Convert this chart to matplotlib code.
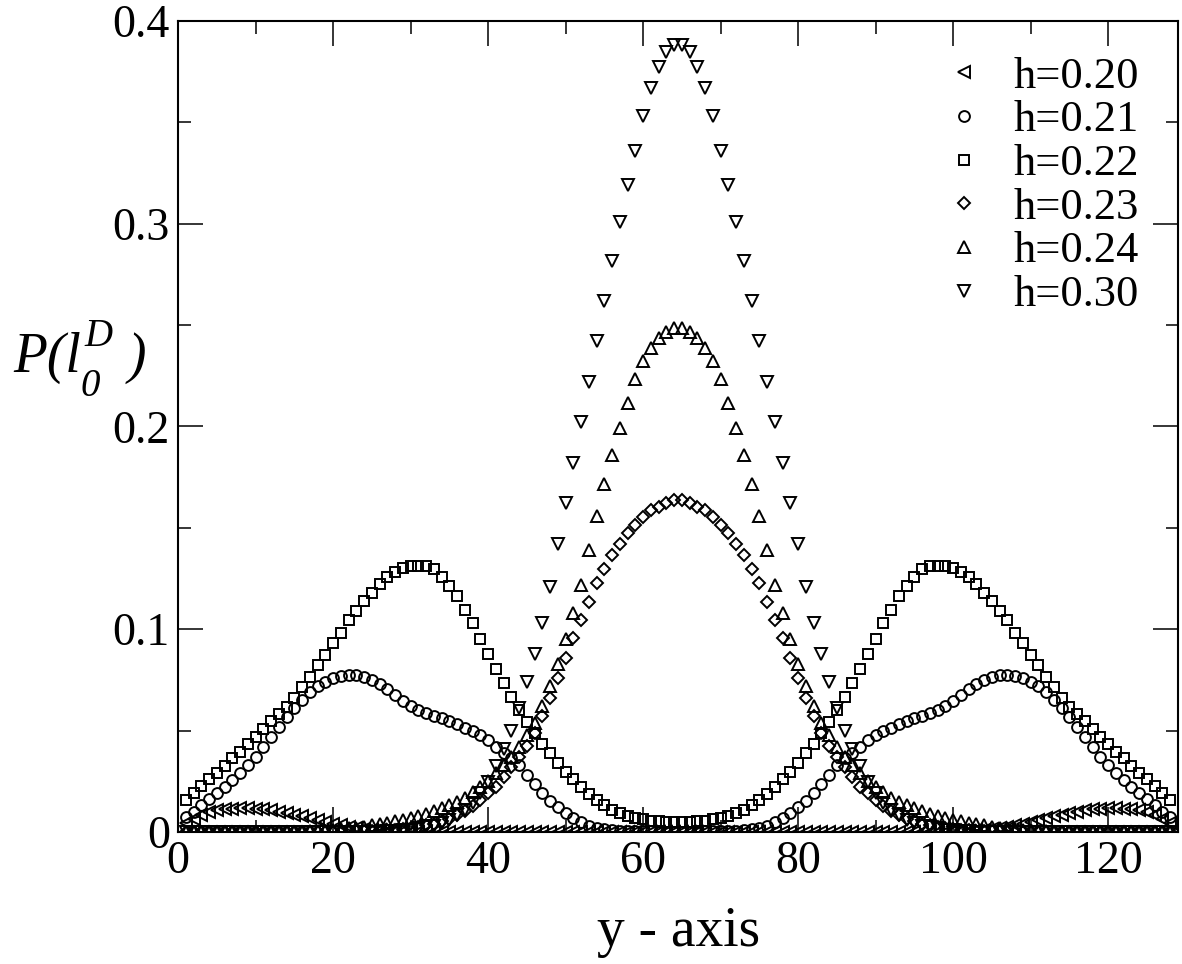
import numpy as np
import matplotlib
matplotlib.use('Agg')
import matplotlib.pyplot as plt

# posições ao longo do eixo y da rede (1..128)
y_pos = np.arange(1, 129)

h020 = [
    0.0043, 0.0065, 0.0083, 0.0097, 0.0107, 0.0113, 0.0116, 0.0117,
    0.0117, 0.0115, 0.0112, 0.0107, 0.0101, 0.0094, 0.0086, 0.0077,
    0.0069, 0.0060, 0.0051, 0.0042, 0.0033, 0.0026, 0.0020, 0.0015,
    0.0011, 0.0008, 0.0006, 0.0004, 0.0003, 0.0002, 0.0001, 0.0,
    0.0, 0.0, 0.0, 0.0, 0.0, 0.0, 0.0, 0.0,
    0.0, 0.0, 0.0, 0.0, 0.0, 0.0, 0.0, 0.0,
    0.0, 0.0, 0.0, 0.0, 0.0, 0.0, 0.0, 0.0,
    0.0, 0.0, 0.0, 0.0, 0.0, 0.0, 0.0, 0.0,
    0.0, 0.0, 0.0, 0.0, 0.0, 0.0, 0.0, 0.0,
    0.0, 0.0, 0.0, 0.0, 0.0, 0.0, 0.0, 0.0,
    0.0, 0.0, 0.0, 0.0, 0.0, 0.0, 0.0, 0.0,
    0.0, 0.0, 0.0, 0.0, 0.0, 0.0, 0.0, 0.0,
    0.0, 0.0001, 0.0002, 0.0003, 0.0004, 0.0006, 0.0008, 0.0011,
    0.0015, 0.0020, 0.0026, 0.0033, 0.0042, 0.0051, 0.0060, 0.0069,
    0.0077, 0.0086, 0.0094, 0.0101, 0.0107, 0.0112, 0.0115, 0.0117,
    0.0117, 0.0116, 0.0113, 0.0107, 0.0097, 0.0083, 0.0065, 0.0043,
]

h021 = [
    0.0075, 0.0100, 0.0133, 0.0161, 0.0190, 0.0223, 0.0256, 0.0290,
    0.0330, 0.0371, 0.0420, 0.0470, 0.0519, 0.0566, 0.0610, 0.0651,
    0.0692, 0.0720, 0.0741, 0.0758, 0.0769, 0.0774, 0.0774, 0.0766,
    0.0750, 0.0730, 0.0704, 0.0676, 0.0648, 0.0621, 0.0602, 0.0585,
    0.0572, 0.0560, 0.0549, 0.0533, 0.0515, 0.0500, 0.0480, 0.0454,
    0.0420, 0.0391, 0.0363, 0.0330, 0.0281, 0.0237, 0.0190, 0.0154,
    0.0122, 0.0092, 0.0068, 0.0048, 0.0031, 0.0021, 0.0013, 0.0009,
    0.0007, 0.0005, 0.0004, 0.0003, 0.0003, 0.0002, 0.0002, 0.0002,
    0.0002, 0.0002, 0.0002, 0.0003, 0.0003, 0.0004, 0.0005, 0.0007,
    0.0009, 0.0013, 0.0021, 0.0031, 0.0048, 0.0068, 0.0092, 0.0122,
    0.0154, 0.0190, 0.0237, 0.0281, 0.0330, 0.0363, 0.0391, 0.0420,
    0.0454, 0.0480, 0.0500, 0.0515, 0.0533, 0.0549, 0.0560, 0.0572,
    0.0585, 0.0602, 0.0621, 0.0648, 0.0676, 0.0704, 0.0730, 0.0750,
    0.0766, 0.0774, 0.0774, 0.0769, 0.0758, 0.0741, 0.0720, 0.0692,
    0.0651, 0.0610, 0.0566, 0.0519, 0.0470, 0.0420, 0.0371, 0.0330,
    0.0290, 0.0256, 0.0223, 0.0190, 0.0161, 0.0133, 0.0100, 0.0075,
]

h022 = [
    0.0158, 0.0190, 0.0227, 0.0260, 0.0292, 0.0325, 0.0363, 0.0396,
    0.0432, 0.0470, 0.0510, 0.0549, 0.0580, 0.0615, 0.0660, 0.0713,
    0.0766, 0.0823, 0.0873, 0.0930, 0.0983, 0.1045, 0.1091, 0.1140,
    0.1180, 0.1223, 0.1256, 0.1284, 0.1300, 0.1312, 0.1314, 0.1312,
    0.1295, 0.1259, 0.1213, 0.1164, 0.1095, 0.1029, 0.0952, 0.0876,
    0.0806, 0.0733, 0.0664, 0.0602, 0.0541, 0.0487, 0.0432, 0.0388,
    0.0339, 0.0297, 0.0260, 0.0220, 0.0187, 0.0158, 0.0133, 0.0108,
    0.0092, 0.0079, 0.0070, 0.0062, 0.0056, 0.0052, 0.0050, 0.0049,
    0.0049, 0.0050, 0.0052, 0.0056, 0.0062, 0.0070, 0.0079, 0.0092,
    0.0108, 0.0133, 0.0158, 0.0187, 0.0220, 0.0260, 0.0297, 0.0339,
    0.0388, 0.0432, 0.0487, 0.0541, 0.0602, 0.0664, 0.0733, 0.0806,
    0.0876, 0.0952, 0.1029, 0.1095, 0.1164, 0.1213, 0.1259, 0.1295,
    0.1312, 0.1314, 0.1312, 0.1300, 0.1284, 0.1256, 0.1223, 0.1180,
    0.1140, 0.1091, 0.1045, 0.0983, 0.0930, 0.0873, 0.0823, 0.0766,
    0.0713, 0.0660, 0.0615, 0.0580, 0.0549, 0.0510, 0.0470, 0.0432,
    0.0396, 0.0363, 0.0325, 0.0292, 0.0260, 0.0227, 0.0190, 0.0158,
]

h023 = [
    0.0, 0.0, 0.0, 0.0, 0.0, 0.0, 0.0, 0.0,
    0.0, 0.0, 0.0, 0.0, 0.0, 0.0, 0.0, 0.0,
    0.0, 0.0, 0.0, 0.0, 0.0001, 0.0002, 0.0003, 0.0004,
    0.0005, 0.0007, 0.0009, 0.0012, 0.0016, 0.0021, 0.0027, 0.0034,
    0.0042, 0.0053, 0.0066, 0.0082, 0.0102, 0.0128, 0.0160, 0.0190,
    0.0223, 0.0273, 0.0322, 0.0368, 0.0424, 0.0490, 0.0573, 0.0659,
    0.0758, 0.0856, 0.0955, 0.1045, 0.1136, 0.1226, 0.1298, 0.1366,
    0.1420, 0.1473, 0.1514, 0.1552, 0.1588, 0.1604, 0.1624, 0.1637,
    0.1637, 0.1624, 0.1604, 0.1588, 0.1552, 0.1514, 0.1473, 0.1420,
    0.1366, 0.1298, 0.1226, 0.1136, 0.1045, 0.0955, 0.0856, 0.0758,
    0.0659, 0.0573, 0.0490, 0.0424, 0.0368, 0.0322, 0.0273, 0.0223,
    0.0190, 0.0160, 0.0128, 0.0102, 0.0082, 0.0066, 0.0053, 0.0042,
    0.0034, 0.0027, 0.0021, 0.0016, 0.0012, 0.0009, 0.0007, 0.0005,
    0.0004, 0.0003, 0.0002, 0.0001, 0.0, 0.0, 0.0, 0.0,
    0.0, 0.0, 0.0, 0.0, 0.0, 0.0, 0.0, 0.0,
    0.0, 0.0, 0.0, 0.0, 0.0, 0.0, 0.0, 0.0,
]

h024 = [
    0.0, 0.0, 0.0, 0.0, 0.0, 0.0, 0.0, 0.0,
    0.0, 0.0, 0.0, 0.0, 0.0, 0.0, 0.0, 0.0002,
    0.0003, 0.0005, 0.0007, 0.0010, 0.0014, 0.0018, 0.0022, 0.0027,
    0.0033, 0.0039, 0.0045, 0.0052, 0.0060, 0.0069, 0.0079, 0.0091,
    0.0104, 0.0117, 0.0133, 0.0150, 0.0170, 0.0195, 0.0220, 0.0250,
    0.0290, 0.0330, 0.0370, 0.0420, 0.0480, 0.0540, 0.0620, 0.0720,
    0.0830, 0.0950, 0.1080, 0.1220, 0.1390, 0.1560, 0.1716, 0.1860,
    0.1990, 0.2117, 0.2234, 0.2324, 0.2388, 0.2434, 0.2467, 0.2487,
    0.2487, 0.2467, 0.2434, 0.2388, 0.2324, 0.2234, 0.2117, 0.1990,
    0.1860, 0.1716, 0.1560, 0.1390, 0.1220, 0.1080, 0.0950, 0.0830,
    0.0720, 0.0620, 0.0540, 0.0480, 0.0420, 0.0370, 0.0330, 0.0290,
    0.0250, 0.0220, 0.0195, 0.0170, 0.0150, 0.0133, 0.0117, 0.0104,
    0.0091, 0.0079, 0.0069, 0.0060, 0.0052, 0.0045, 0.0039, 0.0033,
    0.0027, 0.0022, 0.0018, 0.0014, 0.0010, 0.0007, 0.0005, 0.0003,
    0.0002, 0.0, 0.0, 0.0, 0.0, 0.0, 0.0, 0.0,
    0.0, 0.0, 0.0, 0.0, 0.0, 0.0, 0.0, 0.0,
]

h030 = [
    0.0, 0.0, 0.0, 0.0, 0.0, 0.0, 0.0, 0.0,
    0.0, 0.0, 0.0, 0.0, 0.0, 0.0, 0.0, 0.0,
    0.0, 0.0, 0.0, 0.0, 0.0, 0.0, 0.0, 0.0,
    0.0001, 0.0002, 0.0003, 0.0005, 0.0008, 0.0011, 0.0016, 0.0023,
    0.0032, 0.0044, 0.0060, 0.0082, 0.0110, 0.0145, 0.0190, 0.0248,
    0.0325, 0.0410, 0.0500, 0.0610, 0.0740, 0.0876, 0.1030, 0.1210,
    0.1420, 0.1620, 0.1820, 0.2020, 0.2220, 0.2420, 0.2620, 0.2817,
    0.3006, 0.3190, 0.3360, 0.3530, 0.3670, 0.3770, 0.3845, 0.3880,
    0.3880, 0.3845, 0.3770, 0.3670, 0.3530, 0.3360, 0.3190, 0.3006,
    0.2817, 0.2620, 0.2420, 0.2220, 0.2020, 0.1820, 0.1620, 0.1420,
    0.1210, 0.1030, 0.0876, 0.0740, 0.0610, 0.0500, 0.0410, 0.0325,
    0.0248, 0.0190, 0.0145, 0.0110, 0.0082, 0.0060, 0.0044, 0.0032,
    0.0023, 0.0016, 0.0011, 0.0008, 0.0005, 0.0003, 0.0002, 0.0001,
    0.0, 0.0, 0.0, 0.0, 0.0, 0.0, 0.0, 0.0,
    0.0, 0.0, 0.0, 0.0, 0.0, 0.0, 0.0, 0.0,
    0.0, 0.0, 0.0, 0.0, 0.0, 0.0, 0.0, 0.0,
]

series = [h020, h021, h022, h023, h024, h030]
rotulos = ['h=0.20', 'h=0.21', 'h=0.22', 'h=0.23', 'h=0.24', 'h=0.30']
marcadores = ['<', 'o', 's', 'D', '^', 'v']
tamanhos = [8.0, 7.8, 6.6, 6.2, 8.5, 9.0]

plt.rcParams['font.family'] = ['Liberation Serif']

fig = plt.figure(figsize=(11.82, 9.64), dpi=100)
ax = fig.add_axes([0.1508, 0.1369, 0.8458, 0.8416])

for dados, rot, mk, ms in zip(series, rotulos, marcadores, tamanhos):
    ax.plot(y_pos, dados, linestyle='none', marker=mk, markersize=ms,
            markerfacecolor='none', markeredgecolor='black',
            markeredgewidth=1.4, label=rot)

ax.set_xlim(0, 129)
ax.set_ylim(0, 0.4)
ax.set_xticks([0, 20, 40, 60, 80, 100, 120])
ax.set_xticks(np.arange(10, 129, 20), minor=True)
ax.set_yticks([0, 0.1, 0.2, 0.3, 0.4])
ax.set_yticklabels(['0', '0.1', '0.2', '0.3', '0.4'])
ax.set_yticks([0.05, 0.15, 0.25, 0.35], minor=True)

ax.tick_params(which='both', direction='in', top=True, right=True,
               width=1.1, labelsize=33, pad=6)
ax.tick_params(which='major', length=18)
ax.tick_params(which='minor', length=9)
for lado in ax.spines.values():
    lado.set_linewidth(1.5)

ax.set_xlabel('y - axis', fontsize=40, labelpad=17)

# rótulo do eixo vertical montado por partes: P(l, índice 0, expoente D e ")"
fig.text(13 / 1182, 1 - 372 / 964, 'P(l', fontsize=40, style='italic',
         ha='left', va='baseline')
fig.text(80 / 1182, 1 - 396 / 964, '0', fontsize=28, style='italic',
         ha='left', va='baseline')
fig.text(84 / 1182, 1 - 346 / 964, 'D', fontsize=28, style='italic',
         ha='left', va='baseline')
fig.text(128 / 1182, 1 - 372 / 964, ')', fontsize=40, style='italic',
         ha='left', va='baseline')

ax.legend(loc='upper right', bbox_to_anchor=(0.992, 0.994), frameon=False,
          fontsize=32, numpoints=1, handlelength=1.0, handletextpad=0.62,
          labelspacing=0.08, borderpad=0.2)

plt.savefig('out.png', dpi=100)
